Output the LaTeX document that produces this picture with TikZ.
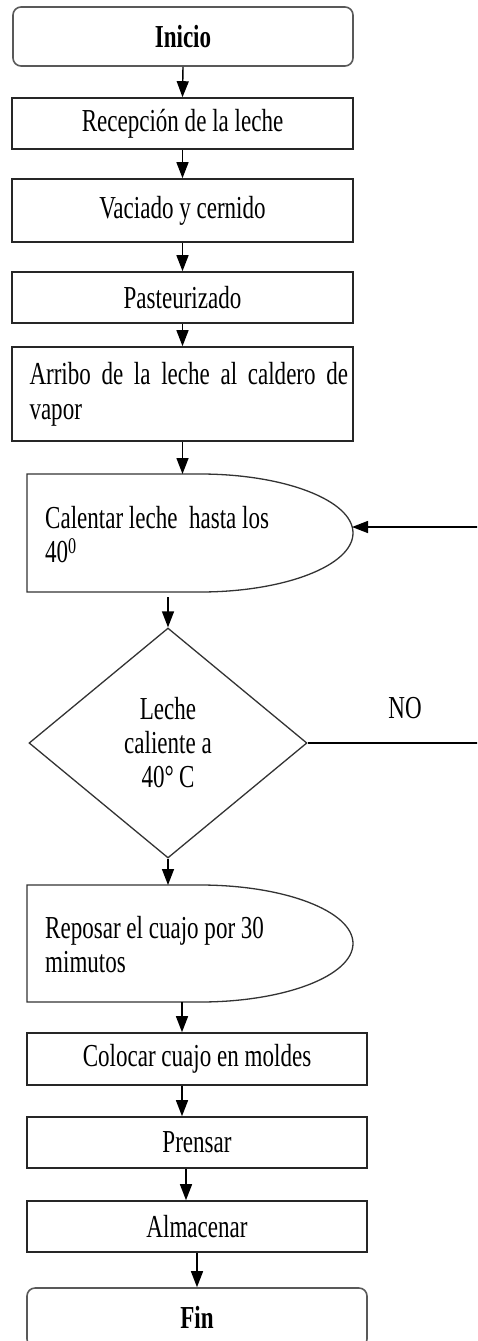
\documentclass[tikz,border=0pt]{standalone}
\usepackage{fontspec}
\setmainfont{Liberation Serif}[FakeStretch=0.72]
\usetikzlibrary{arrows.meta,shapes.geometric}

\begin{document}
\begin{tikzpicture}[x=1pt,y=-1pt,
  txtfont/.style={font=\fontsize{32}{34}\selectfont},
  txt/.style={txtfont, inner sep=0pt},
  box/.style={draw=black!85, line width=1.6pt, minimum width=341pt,
    minimum height=51pt, inner sep=0pt, txtfont},
  term/.style={box, rounded corners=8pt, draw=black!65,
    font=\fontsize{32}{34}\selectfont\bfseries},
  shapeline/.style={draw=black!80, line width=1.3pt},
  arr/.style={line width=1.4pt, -{Triangle[length=16pt,width=12pt]}},
]
\clip (0,0) rectangle (477,1341);

% upper chain of process boxes
\node[term, minimum width=340pt, minimum height=59pt] (ini) at (183,36.5) {Inicio};
\node[box] (rec) at (182.5,123.5) {Recepción de la leche};
\node[box, minimum height=63pt] (vac) at (182.5,210.5) {Vaciado y cernido};
\node[box] (pas) at (182.5,297.5) {Pasteurizado};
\node[box, minimum height=94pt, text width=306pt, align=left, inner xsep=17.5pt,
  font=\fontsize{32}{35}\selectfont] (arb) at (182.5,394)
  {\makebox[306pt][s]{Arribo de la leche al caldero de}\\vapor};

% delay shape: heating step
\draw[shapeline] (27,474) -- (200,474)
  arc[start angle=-90, end angle=90, x radius=153, y radius=59] -- (27,592) -- cycle;
\coordinate (calN) at (182.5,474);
\coordinate (calS) at (168,597);
\coordinate (calE) at (352,527);
\node[txt, anchor=north west, align=left] (calT) at (45,506)
  {Calentar leche\ \ hasta los\\40\textsuperscript{0}};

% decision
\node[diamond, shapeline, minimum width=278pt, minimum height=230pt, inner sep=0pt,
  align=center, txtfont] (dec) at (168,743) {Leche\\caliente a\\40°\,C};
\node[txt, anchor=base] (no) at (405,718) {NO};

% delay shape: resting step
\draw[shapeline] (27,885) -- (200,885)
  arc[start angle=-90, end angle=90, x radius=153, y radius=58.5] -- (27,1002) -- cycle;
\coordinate (repN) at (168,885);
\coordinate (repS) at (182,1002);
\node[txt, anchor=north west, align=left] (repT) at (45,916)
  {Reposar el cuajo por 30\\mimutos};

% lower chain
\node[box, minimum width=340pt, minimum height=52pt] (col) at (197,1059) {Colocar cuajo en moldes};
\node[box, minimum width=340pt] (pre) at (197,1142.5) {Prensar};
\node[box, minimum width=340pt] (alm) at (197,1226.5) {Almacenar};
\node[term, minimum width=340pt, minimum height=59pt] (fin) at (197,1317.5) {Fin};

% connectors
\draw[arr] (ini.south) -- (rec.north);
\draw[arr] (rec.south) -- (vac.north);
\draw[arr] (vac.south) -- (pas.north);
\draw[arr] (pas.south) -- (arb.north);
\draw[arr] (arb.south) -- (calN);
\draw[arr] (calS) -- (dec.north);
\draw[arr] (dec.south) -- (repN);
\draw[arr] (dec.east) -- ++(250,0) |- (calE);
\draw[arr] (repS) -- (col.north -| repS);
\draw[arr] ([xshift=-15pt]col.south) -- ([xshift=-15pt]pre.north);
\draw[arr] ([xshift=-11pt]pre.south) -- ([xshift=-11pt]alm.north);
\draw[arr] (alm.south) -- (fin.north);
\end{tikzpicture}
\end{document}
